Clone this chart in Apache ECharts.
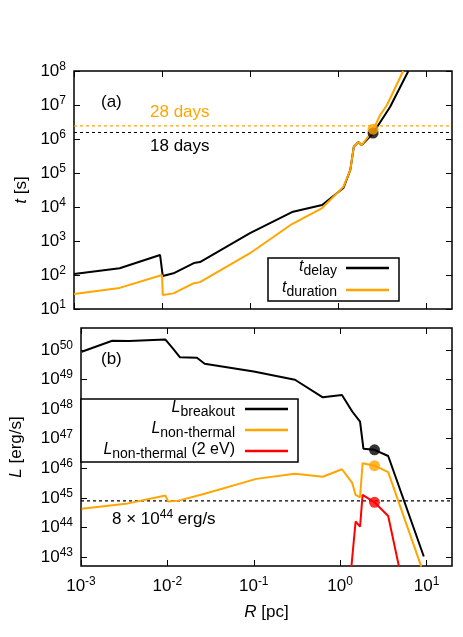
<!DOCTYPE html>
<html><head><meta charset="utf-8">
<script src="https://cdn.jsdelivr.net/npm/echarts@6/dist/echarts.min.js"></script>
<style>html,body{margin:0;background:#fff}#c{width:463px;height:637px}</style>
</head><body><div id="c"></div>
<script>
// panel (a): times vs radius
const rDelay = [0.001, 0.0033, 0.0095, 0.0102, 0.0135, 0.023, 0.027, 0.1, 0.30, 0.66, 1.15, 1.38, 1.51, 1.70, 1.86, 2.5, 3.9, 6.3]
const tDelay = [107, 158, 389, 93, 112, 224, 240, 1.7e3, 7.1e3, 1.15e4, 3.6e4, 1.23e5, 5.9e5, 8.1e5, 6.6e5, 1.48e6, 8.7e6, 1e8]
const rDur = [0.001, 0.0033, 0.010, 0.0102, 0.0135, 0.023, 0.027, 0.1, 0.30, 0.66, 1.15, 1.38, 1.51, 1.70, 1.86, 2.5, 3.0, 3.6, 5.5]
const tDur = [27.5, 41.7, 100, 25.7, 28.8, 57.5, 61.7, 437, 3.16e3, 9.3e3, 3.9e4, 1.23e5, 5.9e5, 8.1e5, 6.6e5, 1.82e6, 5e6, 1e7, 1e8]
const tDays28 = 2.42e6
const tDays18 = 1.555e6
const dotR = 2.5

// panel (b): luminosities vs radius
const rBreak = [0.00102, 0.0023, 0.0036, 0.0095, 0.0115, 0.014, 0.022, 0.027, 0.1, 0.30, 0.63, 1.05, 1.38, 1.70, 1.86, 2.5, 3.6, 9.3]
const lBreak = [8.7e49, 2.04e50, 2.0e50, 2.24e50, 1.15e50, 5.6e49, 5.4e49, 3.4e49, 1.86e49, 9.8e48, 2.5e48, 3.0e48, 8.3e47, 3.8e47, 4.6e46, 4.2e46, 2.6e46, 1.05e43]
const rNt = [0.00102, 0.0033, 0.0095, 0.0102, 0.0135, 0.027, 0.107, 0.30, 0.63, 1.05, 1.38, 1.51, 1.70, 1.82, 2.5, 3.6, 8.7]
const lNt = [4.3e44, 6.3e44, 1.2e45, 7.6e44, 8.1e44, 1.38e45, 4.4e45, 6.5e45, 5.2e45, 9.3e45, 3.2e45, 1.26e45, 1.05e45, 1.48e46, 1.23e46, 7.4e45, 4.8e42]
const rNt2 = [1.35, 1.51, 1.70, 1.82, 2.5, 3.6, 4.8]
const lNt2 = [4.8e42, 1.6e44, 1.07e44, 1.26e45, 7.1e44, 2.45e44, 4.8e42]
const lLimit = 8e44

const lg = Math.log10
const pts = (xs, ys) => xs.map((x, i) => [lg(x), lg(ys[i])])
const FONT = 'Liberation Sans'
const sup = v => '10{s|' + v + '}'
const rich = { s: { fontSize: 12, verticalAlign: 'top', padding: [0, 0, 9, 0], fontFamily: FONT } }

function xAx(grid, labels) {
  return [{
    gridIndex: grid, type: 'value', min: -3, max: 1.295,
    axisLine: { show: false, onZero: false }, splitLine: { show: false },
    axisTick: { inside: true, length: 6, customValues: [-3, -2, -1, 0, 1], lineStyle: { color: '#000' } },
    axisLabel: { show: labels, customValues: [-3, -2, -1, 0, 1], formatter: sup, rich, color: '#000', fontSize: 17, fontFamily: FONT, margin: 10 },
    name: labels ? '{i|R} [pc]' : '', nameLocation: 'middle', nameGap: 38,
    nameTextStyle: { fontSize: 17, fontFamily: FONT, color: '#000', rich: { i: { fontStyle: 'italic', fontSize: 17, fontFamily: FONT } } }
  }, {
    gridIndex: grid, type: 'value', min: -3, max: 1.295, position: 'top',
    axisLine: { show: false, onZero: false }, splitLine: { show: false }, axisLabel: { show: false },
    axisTick: { inside: true, length: 6, customValues: [-3, -2, -1, 0, 1], lineStyle: { color: '#000' } }
  }]
}
function yAx(grid, min, max, vals, name, gap) {
  return [{
    gridIndex: grid, type: 'value', min, max,
    axisLine: { show: false, onZero: false }, splitLine: { show: false },
    axisTick: { inside: true, length: 6, customValues: vals, lineStyle: { color: '#000' } },
    axisLabel: { customValues: vals, formatter: sup, rich, color: '#000', fontSize: 17, fontFamily: FONT, margin: 8 },
    name, nameLocation: 'middle', nameGap: gap, nameRotate: 90,
    nameTextStyle: { fontSize: 17, fontFamily: FONT, color: '#000', rich: { i: { fontStyle: 'italic', fontSize: 17, fontFamily: FONT } } }
  }, {
    gridIndex: grid, type: 'value', min, max, position: 'right',
    axisLine: { show: false, onZero: false }, splitLine: { show: false }, axisLabel: { show: false },
    axisTick: { inside: true, length: 6, customValues: vals, lineStyle: { color: '#000' } }
  }]
}
const line = (x, y, data, color) => ({
  type: 'line', xAxisIndex: x, yAxisIndex: y, data, symbol: 'none', silent: true,
  lineStyle: { color, width: 2 }, z: 3
})
const dot = (x, y, pt, color) => ({
  type: 'scatter', xAxisIndex: x, yAxisIndex: y, data: [pt], symbolSize: 11,
  itemStyle: { color }, z: 5, silent: true
})
const hline = (x, y, v, color) => ({
  type: 'line', xAxisIndex: x, yAxisIndex: y, data: [[-3, lg(v)], [1.295, lg(v)]], symbol: 'none',
  lineStyle: { color, width: 1.2, type: [3, 3] }, z: 2, silent: true
})

const ORANGE = '#ffa500', RED = '#ff0000'
const txt = (x, y, text, color, extra) => ({
  type: 'text', left: x, top: y, z: 10,
  style: Object.assign({ text, fill: color || '#000', font: '17px "Liberation Sans"' }, extra || {})
})
const seg = (x1, x2, y, color) => ({ type: 'line', z: 10, shape: { x1, y1: y, x2, y2: y }, style: { stroke: color, lineWidth: 2.5 } })
const subText = (right, y, main, sub, tail) => ({
  type: 'text', right, top: y, z: 10,
  style: {
    text: '{m|' + main + '}{b|' + sub + '}' + (tail ? '{t|' + tail + '}' : ''),
    rich: {
      m: { font: 'italic 16px "Liberation Sans"', fill: '#000' },
      b: { font: '14px "Liberation Sans"', fill: '#000', padding: [8, 0, 0, 0] },
      t: { font: '16px "Liberation Sans"', fill: '#000' }
    }
  }
})

const chart = echarts.init(document.getElementById('c'))
chart.setOption({
  animation: false,
  backgroundColor: '#fff',
  grid: [
    { left: 74, width: 378, top: 71, height: 238, show: true, borderColor: '#000', borderWidth: 1.5, backgroundColor: 'transparent' },
    { left: 74, width: 378, top: 328, height: 238, show: true, borderColor: '#000', borderWidth: 1.5, backgroundColor: 'transparent' }
  ],
  xAxis: [...xAx(0, false), ...xAx(1, true)],
  yAxis: [
    ...yAx(0, 1, 8, [1, 2, 3, 4, 5, 6, 7, 8], '{i|t} [s]', 42),
    ...yAx(1, 42.7, 50.74, [43, 44, 45, 46, 47, 48, 49, 50], '{i|L} [erg/s]', 56)
  ],
  series: [
    hline(0, 0, tDays28, ORANGE),
    hline(0, 0, tDays18, '#000'),
    line(0, 0, pts(rDelay, tDelay), '#000'),
    line(0, 0, pts(rDur, tDur), ORANGE),
    dot(0, 0, [lg(dotR), lg(1.5e6)], '#000'),
    dot(0, 0, [lg(dotR), lg(1.95e6)], ORANGE),
    hline(2, 2, lLimit, '#000'),
    line(2, 2, pts(rBreak, lBreak), '#000'),
    line(2, 2, pts(rNt, lNt), ORANGE),
    line(2, 2, pts(rNt2, lNt2), RED),
    dot(2, 2, [lg(dotR), lg(4.2e46)], '#000'),
    dot(2, 2, [lg(dotR), lg(1.23e46)], ORANGE),
    dot(2, 2, [lg(dotR), lg(7.1e44)], RED)
  ],
  graphic: [
    txt(101, 94, '(a)'),
    txt(150, 104, '28 days', ORANGE),
    txt(150, 138, '18 days'),
    { type: 'rect', z: 9, shape: { x: 268, y: 258, width: 131, height: 43 }, style: { fill: '#fff', stroke: '#000', lineWidth: 1.5 } },
    subText(126, 259, 't', 'delay'),
    seg(346, 389, 268, '#000'),
    subText(126, 280, 't', 'duration'),
    seg(346, 389, 290, ORANGE),
    txt(101, 351, '(b)'),
    { type: 'rect', z: 9, shape: { x: 81, y: 399, width: 217, height: 63 }, style: { fill: '#fff', stroke: '#000', lineWidth: 1.5 } },
    subText(228, 400, 'L', 'breakout'),
    seg(245, 288, 409, '#000'),
    subText(228, 421, 'L', 'non-thermal'),
    seg(245, 288, 430, ORANGE),
    subText(228, 442, 'L', 'non-thermal', ' (2 eV)'),
    seg(245, 288, 451, RED),
    {
      type: 'text', left: 112, top: 509, z: 10,
      style: { text: '8 × 10{s|44} erg/s', font: '17px "Liberation Sans"', fill: '#000',
        rich: { s: { font: '12px "Liberation Sans"', padding: [0, 0, 9, 0], verticalAlign: 'top' } } }
    }
  ]
})
</script></body></html>
